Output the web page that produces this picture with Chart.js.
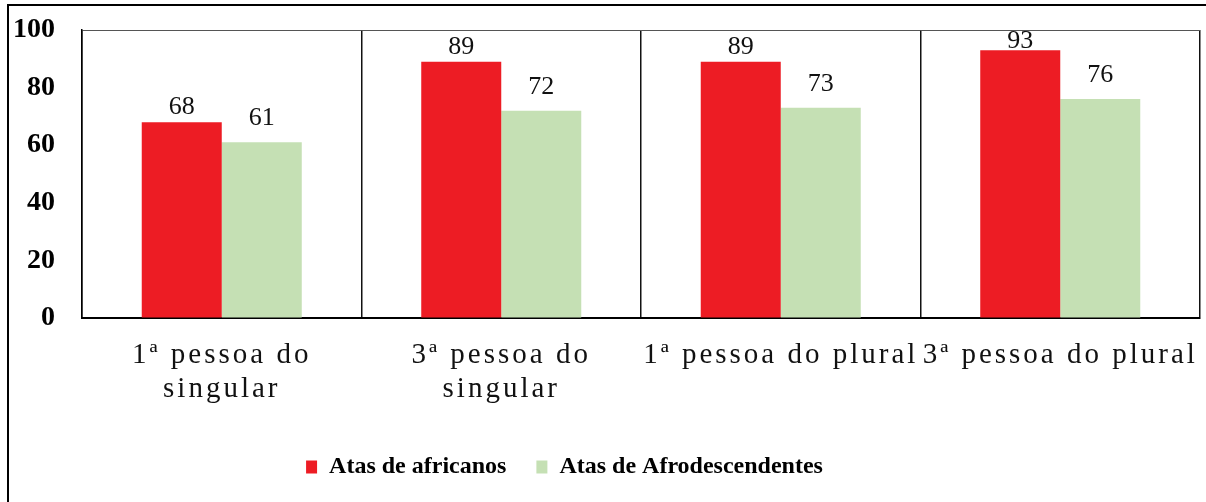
<!DOCTYPE html>
<html>
<head>
<meta charset="utf-8">
<script src="https://cdn.jsdelivr.net/npm/chart.js@4.4.1/dist/chart.umd.min.js"></script>
<style>
    html, body { margin: 0; padding: 0; background: #fff; overflow: hidden; }
    #frame {
        position: absolute; left: 7px; top: 4px; width: 1400px; height: 700px;
        border-left: 2px solid #000; border-top: 2px solid #000;
    }
    #wrap { position: absolute; left: 0; top: 0; width: 1206px; height: 502px; }
</style>
</head>
<body>
<div id="frame"></div>
<div id="wrap"><canvas id="chart" width="1206" height="502"></canvas></div>
<script>
// Data
const categories = [['1ª pessoa do', 'singular'], ['3ª pessoa do', 'singular'], '1ª pessoa do plural', '3ª pessoa do plural'];
const africanos = [68, 89, 89, 93];
const afrodescendentes = [61, 72, 73, 76];
const seriesNames = ['Atas de africanos', 'Atas de Afrodescendentes'];
const yTicks = [0, 20, 40, 60, 80, 100];

const SERIF = '"Liberation Serif", "Times New Roman", serif';

// Value labels above bars, then letter spacing for the x labels (drawn after, ticks.z = 1)
const barLabels = {
    id: 'barLabels',
    afterDatasetsDraw(chart) {
        const ctx = chart.ctx;
        const top = chart.chartArea.top;
        ctx.save();
        ctx.font = '26px ' + SERIF;
        ctx.fillStyle = '#111';
        ctx.textAlign = 'center';
        ctx.textBaseline = 'alphabetic';
        chart.data.datasets.forEach((ds, di) => {
            const meta = chart.getDatasetMeta(di);
            const gap = di === 0 ? 8 : 17;
            meta.data.forEach((bar, i) => {
                const y = Math.max(bar.y - gap, top + 18);
                ctx.fillText(ds.data[i], bar.x, y);
            });
        });
        ctx.restore();
        ctx.letterSpacing = '3px';
    },
    afterDraw(chart) {
        chart.ctx.letterSpacing = '0px';
    }
};

// Legend sits left of centre in the original
const legendShift = {
    id: 'legendShift',
    afterLayout(chart) {
        if (chart.legend) chart.legend.left -= 71;
    }
};

const chart = new Chart(document.getElementById('chart'), {
    type: 'bar',
    data: {
        labels: categories,
        datasets: [{
            label: seriesNames[0],
            data: africanos,
            backgroundColor: '#ED1C24',
            borderWidth: 0
        }, {
            label: seriesNames[1],
            data: afrodescendentes,
            backgroundColor: '#C5E0B4',
            borderWidth: 0
        }]
    },
    options: {
        responsive: false,
        animation: false,
        categoryPercentage: 0.5725,
        barPercentage: 1,
        layout: { padding: { top: 30, right: 6, bottom: 13, left: 0 } },
        plugins: {
            tooltip: { enabled: false },
            legend: {
                position: 'bottom',
                labels: {
                    boxWidth: 11,
                    boxHeight: 13,
                    padding: 30,
                    color: '#000',
                    font: { family: SERIF, size: 24, weight: 'bold' }
                }
            }
        },
        scales: {
            x: {
                grid: { offset: true, drawTicks: false, color: '#111', lineWidth: 1.5 },
                border: { color: '#000', width: 2 },
                ticks: {
                    z: 1,
                    padding: 21,
                    maxRotation: 0,
                    autoSkip: false,
                    color: '#111',
                    font: { family: SERIF, size: 29, lineHeight: 1.15 }
                },
                afterFit(scale) { scale.height = 107; }
            },
            y: {
                min: yTicks[0],
                max: yTicks[yTicks.length - 1],
                grid: {
                    drawTicks: false,
                    lineWidth: 1,
                    color: (c) => c.tick && c.tick.value === yTicks[yTicks.length - 1] ? '#555' : 'rgba(0,0,0,0)'
                },
                border: { color: '#000', width: 1.5 },
                ticks: {
                    stepSize: yTicks[1] - yTicks[0],
                    padding: 27,
                    color: '#000',
                    font: { family: SERIF, size: 28, weight: 'bold' }
                },
                afterFit(scale) {
                    scale.width = 82;
                    scale.paddingTop = 0;
                    scale.paddingBottom = 0;
                }
            }
        }
    },
    plugins: [barLabels, legendShift]
});
</script>
</body>
</html>
